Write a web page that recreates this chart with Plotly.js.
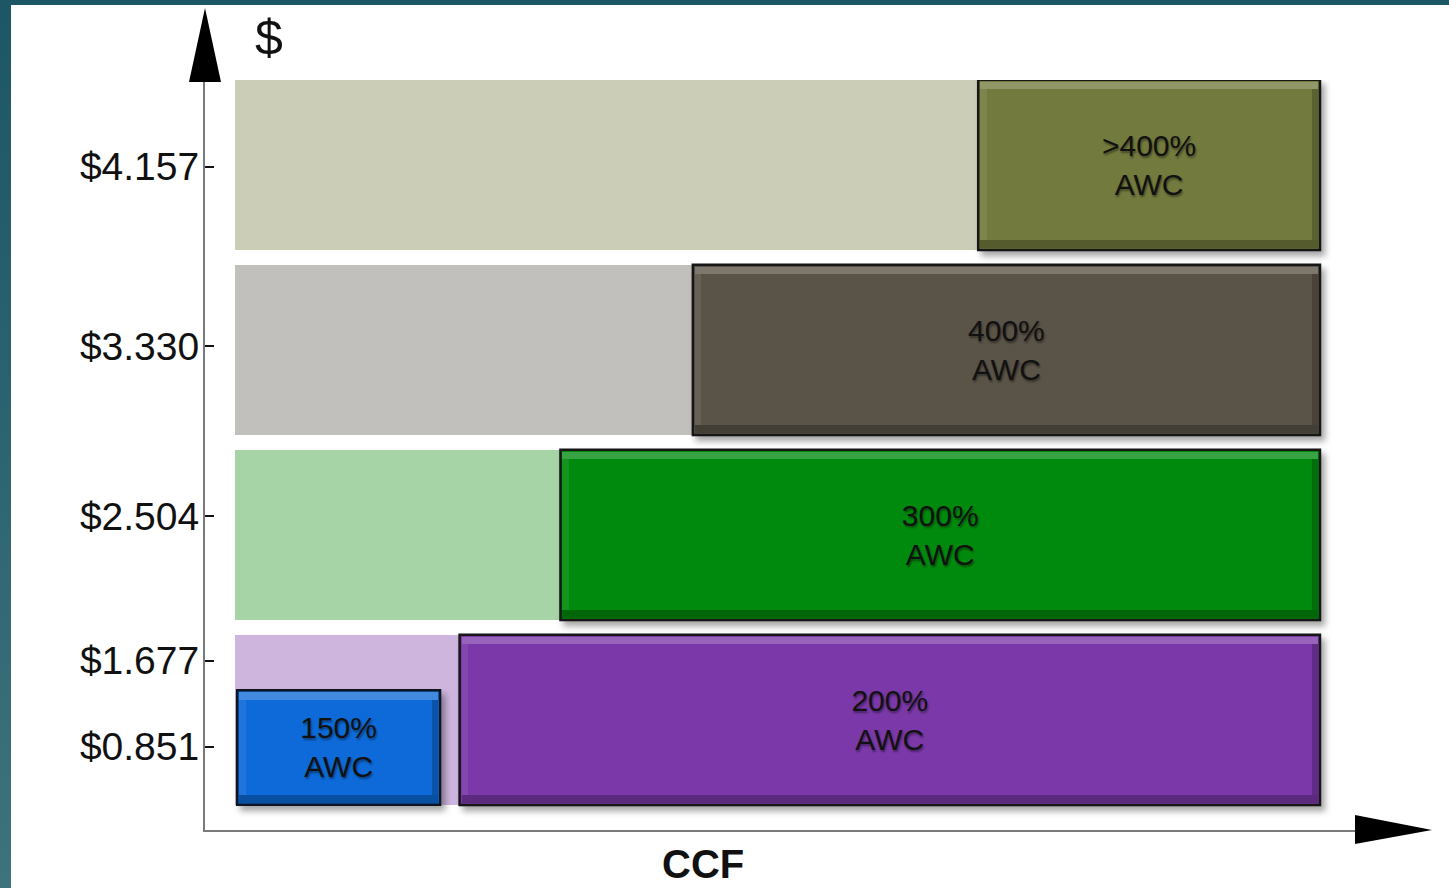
<!DOCTYPE html>
<html>
<head>
<meta charset="utf-8">
<script src="https://cdn.plot.ly/plotly-3.0.1.min.js"></script>
<style>
  html, body { margin: 0; padding: 0; width: 1449px; height: 888px; overflow: hidden;
    background: linear-gradient(to bottom, #1d5664 0%, #2c6470 50%, #3e737d 100%); }
  #chart { position: absolute; left: 11px; top: 5px; width: 1438px; height: 883px; background: #ffffff; }
</style>
</head>
<body>
<div id="chart"></div>
<script>
// ---- data ----
const tierLabels   = ['>400%<br>AWC', '400%<br>AWC', '300%<br>AWC', '200%<br>AWC'];
const tierRows     = [4, 3, 2, 1];                 // row position of each tier
const tierStartCCF = [68.5, 42.2, 30.0, 20.7];     // CCF where each tier begins
const maxCCF       = 100;                          // right end of all tiers
const tierColors   = ['#737a3d', '#5a5347', '#008a0a', '#7a38a8'];
const lightColors  = ['#cbcdb7', '#c1c0bc', '#a7d4a7', '#cdb5dd'];
const baseLabel    = ['150%<br>AWC'];
const baseRow      = [0.851];
const baseEndCCF   = [18.9];
const priceLabels  = ['$4.157', '$3.330', '$2.504', '$1.677', '$0.851'];
const pricePos     = [3.99, 3.02, 2.10, 1.32, 0.855];

const rowThickness  = 0.92;
const baseThickness = 0.62;
const FONT = 'Arial, "Liberation Sans", sans-serif';

// all solid boxes (tiers + 150% box) for bevel strips
const boxRows   = tierRows.concat(baseRow);
const boxStart  = tierStartCCF.concat([0.2]);
const boxEnd    = tierRows.map(() => maxCCF).concat(baseEndCCF);
const boxThick  = tierRows.map(() => rowThickness).concat([baseThickness]);
const stripY = 0.04, stripX = 0.6, inset = 0.012, insetX = 0.18;

const tierWidth = tierStartCCF.map(s => maxCCF - s);
const common = { type: 'bar', orientation: 'h', hoverinfo: 'skip', showlegend: false };
const txtFont = { family: FONT, size: 30, color: '#111111', shadow: '1px 2px 2px rgba(0,0,0,0.4)' };

const traces = [
  Object.assign({}, common, { // light bands
    y: tierRows, x: tierStartCCF, base: tierRows.map(() => 0), width: rowThickness,
    marker: { color: lightColors, line: { width: 0 } }
  }),
  Object.assign({}, common, { // dark tier boxes
    y: tierRows, x: tierWidth, base: tierStartCCF, width: rowThickness,
    marker: { color: tierColors, line: { color: '#141414', width: 2.5 } }
  }),
  Object.assign({}, common, { // 150% box
    y: baseRow, x: [baseEndCCF[0] - 0.2], base: [0.2], width: baseThickness,
    marker: { color: ['#0a6bd8'], line: { color: '#0b1420', width: 2.5 } }
  }),
  Object.assign({}, common, { // top highlight bevel
    y: boxRows.map((r, i) => r + boxThick[i] / 2 - inset - stripY / 2),
    x: boxEnd.map((e, i) => e - boxStart[i] - 2 * insetX), base: boxStart.map(s => s + insetX),
    width: stripY, marker: { color: 'rgba(255,255,255,0.22)', line: { width: 0 } }
  }),
  Object.assign({}, common, { // bottom shade bevel
    y: boxRows.map((r, i) => r - boxThick[i] / 2 + inset + stripY / 2),
    x: boxEnd.map((e, i) => e - boxStart[i] - 2 * insetX), base: boxStart.map(s => s + insetX),
    width: stripY, marker: { color: 'rgba(0,0,0,0.25)', line: { width: 0 } }
  }),
  Object.assign({}, common, { // right shade bevel
    y: boxRows, x: boxRows.map(() => stripX), base: boxEnd.map(e => e - insetX - stripX),
    width: boxThick.map(t => t - 2 * inset - 2 * stripY),
    marker: { color: 'rgba(0,0,0,0.2)', line: { width: 0 } }
  }),
  Object.assign({}, common, { // left highlight bevel
    y: boxRows, x: boxRows.map(() => stripX), base: boxStart.map(s => s + insetX),
    width: boxThick.map(t => t - 2 * inset - 2 * stripY),
    marker: { color: 'rgba(255,255,255,0.08)', line: { width: 0 } }
  }),
  Object.assign({}, common, { // labels on tiers
    y: tierRows, x: tierWidth, base: tierStartCCF, width: rowThickness,
    marker: { color: 'rgba(0,0,0,0)', line: { width: 0 } },
    text: tierLabels, textposition: 'inside', insidetextanchor: 'middle',
    textangle: 0, constraintext: 'none', textfont: txtFont
  }),
  Object.assign({}, common, { // label on 150% box
    y: baseRow, x: [baseEndCCF[0] - 0.2], base: [0.2], width: baseThickness,
    marker: { color: 'rgba(0,0,0,0)', line: { width: 0 } },
    text: baseLabel, textposition: 'inside', insidetextanchor: 'middle',
    textangle: 0, constraintext: 'none', textfont: txtFont
  })
];

// plot-area pixel geometry (relative to the chart div)
const L = 194, T = 75, PW = 1155, PH = 750;
const W = 1438, H = 883;
const px = v => (v - 205) / PW;          // page x -> paper
const py = v => (830 - v) / PH;          // page y -> paper

const layout = {
  width: W, height: H,
  margin: { l: L, t: T, r: W - L - PW, b: H - T - PH, pad: 0 },
  paper_bgcolor: '#ffffff', plot_bgcolor: 'rgba(0,0,0,0)',
  barmode: 'overlay', bargap: 0,
  font: { family: FONT, color: '#111111' },
  xaxis: {
    range: [-2.765, 103.69], showgrid: false, zeroline: false,
    showticklabels: false, ticks: '',
    showline: true, linecolor: '#7a7a7a', linewidth: 2, fixedrange: true
  },
  yaxis: {
    range: [0.405, 4.459], showgrid: false, zeroline: false,
    tickmode: 'array', tickvals: pricePos, ticktext: priceLabels,
    ticks: 'inside', ticklen: 9, tickwidth: 2, tickcolor: '#111111',
    ticklabelstandoff: -4,
    tickfont: { family: FONT, size: 39, color: '#111111' },
    showline: true, linecolor: '#7a7a7a', linewidth: 2, fixedrange: true
  },
  shapes: [
    { type: 'path', xref: 'paper', yref: 'paper',
      path: `M ${px(205)} ${py(8)} L ${px(189)} ${py(82)} L ${px(221)} ${py(82)} Z`,
      fillcolor: '#000000', line: { width: 0 } },
    { type: 'path', xref: 'paper', yref: 'paper',
      path: `M ${px(1432)} ${py(830)} L ${px(1355)} ${py(815)} L ${px(1355)} ${py(844)} Z`,
      fillcolor: '#000000', line: { width: 0 } }
  ],
  annotations: [
    { text: '$', xref: 'paper', yref: 'paper', x: px(269), y: py(38),
      xanchor: 'center', yanchor: 'middle', showarrow: false,
      font: { family: FONT, size: 50, color: '#111111' } },
    { text: '<b>CCF</b>', xref: 'paper', yref: 'paper', x: px(703), y: py(864),
      xanchor: 'center', yanchor: 'middle', showarrow: false,
      font: { family: FONT, size: 40, color: '#111111' } }
  ]
};

Plotly.newPlot('chart', traces, layout, { staticPlot: true, displayModeBar: false }).then(gd => {
  const svg = gd.querySelector('svg.main-svg');
  const NS = 'http://www.w3.org/2000/svg';
  let defs = svg.querySelector('defs');
  if (!defs) { defs = document.createElementNS(NS, 'defs'); svg.insertBefore(defs, svg.firstChild); }
  const f = document.createElementNS(NS, 'filter');
  f.setAttribute('id', 'boxshadow');
  f.setAttribute('x', '-10%'); f.setAttribute('y', '-10%');
  f.setAttribute('width', '130%'); f.setAttribute('height', '140%');
  const ds = document.createElementNS(NS, 'feDropShadow');
  ds.setAttribute('dx', '4'); ds.setAttribute('dy', '5');
  ds.setAttribute('stdDeviation', '3'); ds.setAttribute('flood-color', '#000');
  ds.setAttribute('flood-opacity', '0.35');
  f.appendChild(ds); defs.appendChild(f);
  const groups = gd.querySelectorAll('.barlayer .trace');
  [1, 2].forEach(i => {
    if (groups[i]) groups[i].querySelectorAll('.point path').forEach(p => p.setAttribute('filter', 'url(#boxshadow)'));
  });
});
</script>
</body>
</html>
